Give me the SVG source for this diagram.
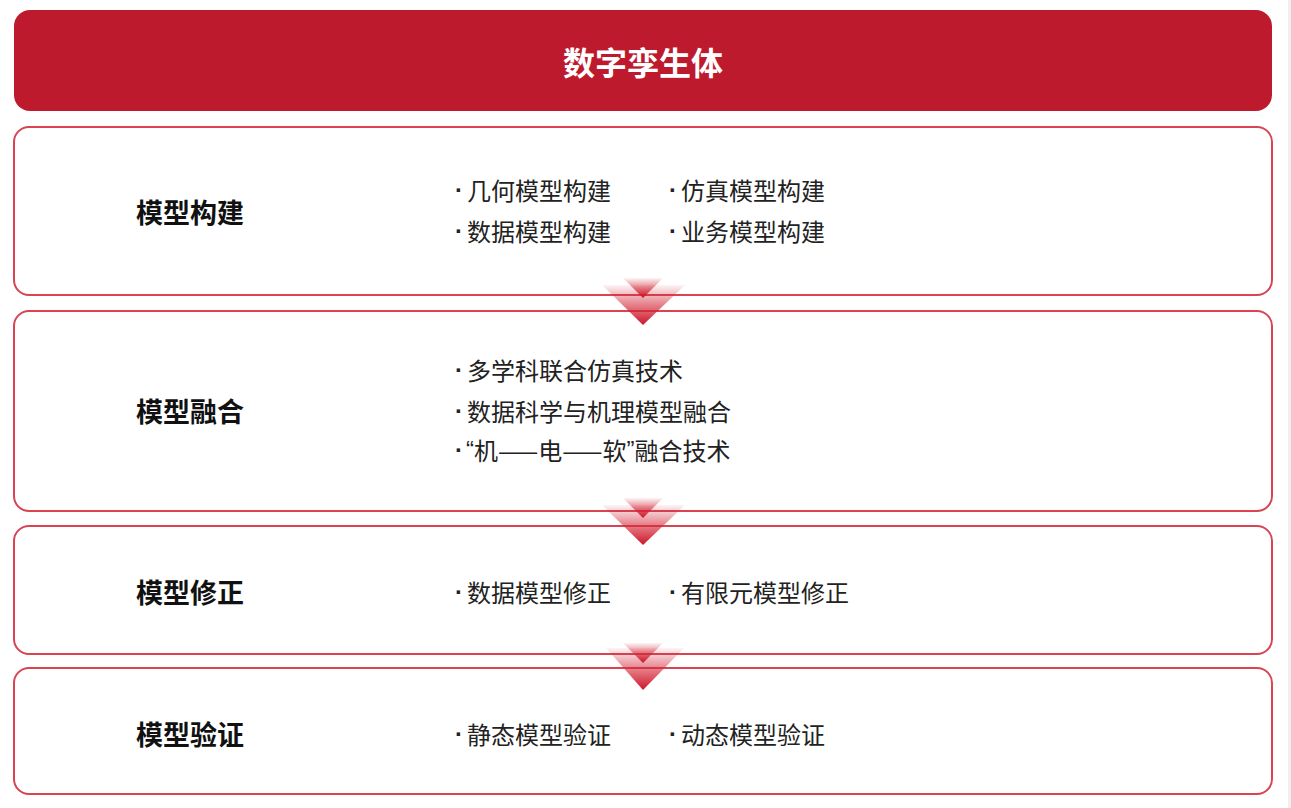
<svg xmlns="http://www.w3.org/2000/svg" width="1291" height="808" viewBox="0 0 1291 808">
<defs>
<style>
.card{fill:#ffffff;stroke:#d94352;stroke-width:2}
.head{fill:#be1a2d}
.title{font-family:"Noto Sans CJK SC","Noto Sans",sans-serif;font-size:32px;font-weight:700;fill:#ffffff}
.label{font-family:"Noto Sans CJK SC","Noto Sans",sans-serif;font-size:27px;font-weight:700;fill:#111111}
.item{font-family:"Noto Sans CJK SC","Noto Sans",sans-serif;font-size:24px;font-weight:400;fill:#222222}
.dot{font-family:"Liberation Sans",Arial,sans-serif;font-weight:700}
.q{font-family:"Liberation Sans",Arial,sans-serif}
.tri{fill:url(#g)}
</style>
<linearGradient id="g" x1="0" y1="0" x2="0" y2="1">
<stop offset="0" stop-color="#d42a3a" stop-opacity="0.05"/>
<stop offset="0.5" stop-color="#d42a3a" stop-opacity="0.6"/>
<stop offset="1" stop-color="#cc1428" stop-opacity="1"/>
</linearGradient>
</defs>
<rect x="0" y="0" width="1291" height="808" fill="#ffffff"/>
<rect x="1288" y="0" width="3" height="808" fill="#efefef"/>
<g id="header">
<rect class="head" x="14" y="10" width="1258" height="101" rx="16"/>
<text class="title" x="643" y="61" text-anchor="middle" dominant-baseline="central">数字孪生体</text>
</g>
<g id="build">
<rect class="card" x="14" y="127" width="1258" height="168" rx="15"/>
<text class="label" x="136" y="211" dominant-baseline="central">模型构建</text>
<text class="item" y="189" dominant-baseline="central"><tspan class="dot" x="455">·</tspan><tspan x="467">几何模型构建</tspan></text>
<text class="item" y="189" dominant-baseline="central"><tspan class="dot" x="669">·</tspan><tspan x="681">仿真模型构建</tspan></text>
<text class="item" y="230" dominant-baseline="central"><tspan class="dot" x="455">·</tspan><tspan x="467">数据模型构建</tspan></text>
<text class="item" y="230" dominant-baseline="central"><tspan class="dot" x="669">·</tspan><tspan x="681">业务模型构建</tspan></text>
</g>
<g id="fusion">
<rect class="card" x="14" y="311" width="1258" height="200" rx="15"/>
<text class="label" x="136" y="410" dominant-baseline="central">模型融合</text>
<text class="item" y="369" dominant-baseline="central"><tspan class="dot" x="455">·</tspan><tspan x="467">多学科联合仿真技术</tspan></text>
<text class="item" y="410" dominant-baseline="central"><tspan class="dot" x="455">·</tspan><tspan x="467">数据科学与机理模型融合</tspan></text>
<text class="item" y="449" dominant-baseline="central"><tspan class="dot" x="455">·</tspan><tspan class="q" x="466">“</tspan><tspan>机——电——软</tspan><tspan class="q">”</tspan><tspan>融合技术</tspan></text>
</g>
<g id="correct">
<rect class="card" x="14" y="526" width="1258" height="128" rx="15"/>
<text class="label" x="136" y="591" dominant-baseline="central">模型修正</text>
<text class="item" y="591" dominant-baseline="central"><tspan class="dot" x="455">·</tspan><tspan x="467">数据模型修正</tspan></text>
<text class="item" y="591" dominant-baseline="central"><tspan class="dot" x="669">·</tspan><tspan x="681">有限元模型修正</tspan></text>
</g>
<g id="verify">
<rect class="card" x="14" y="668" width="1258" height="126" rx="15"/>
<text class="label" x="136" y="733" dominant-baseline="central">模型验证</text>
<text class="item" y="733" dominant-baseline="central"><tspan class="dot" x="455">·</tspan><tspan x="467">静态模型验证</tspan></text>
<text class="item" y="733" dominant-baseline="central"><tspan class="dot" x="669">·</tspan><tspan x="681">动态模型验证</tspan></text>
</g>
<g id="connectors">
<polygon class="tri" points="602,285 685,285 643,325"/>
<polygon class="tri" points="623,278 663,278 643,298"/>
<polygon class="tri" points="602,505 685,505 643,545"/>
<polygon class="tri" points="623,498 663,498 643,518"/>
<polygon class="tri" points="606,648 684,648 643,690"/>
<polygon class="tri" points="623,643 663,643 643,663"/>
</g>
</svg>
